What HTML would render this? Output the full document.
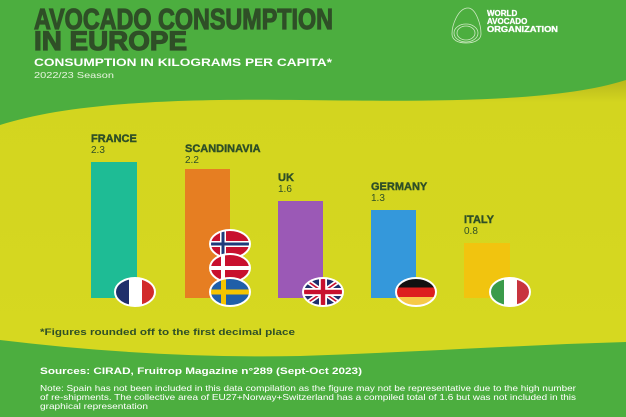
<!DOCTYPE html>
<html><head><meta charset="utf-8"><style>
html,body{margin:0;padding:0;width:626px;height:417px;overflow:hidden;background:#4cae3f}
svg{display:block}
text{font-family:"Liberation Sans",sans-serif}
</style></head><body>
<svg width="626" height="417" viewBox="0 0 626 417" xmlns="http://www.w3.org/2000/svg">
<defs>
<linearGradient id="yg" x1="0" y1="0" x2="0" y2="1">
<stop offset="0" stop-color="#b8b81c"/><stop offset="0.08" stop-color="#d3d51f"/><stop offset="1" stop-color="#d6d820"/>
</linearGradient>
<clipPath id="c1"><ellipse cx="0" cy="0" rx="20" ry="14"/></clipPath>
</defs>
<rect width="626" height="417" fill="#4cae3f"/>
<path d="M0,125 C60,106 150,98 300,100 S560,101 626,80 L626,342 C520,345 420,352 300,356 C200,358 100,352 0,340 Z" fill="url(#yg)"/>
<!-- title -->
<text x="34" y="29" font-size="29" font-weight="bold" fill="#2f4f27" stroke="#2f4f27" stroke-width="1.2" textLength="299" lengthAdjust="spacingAndGlyphs">AVOCADO CONSUMPTION</text>
<text x="34" y="50" font-size="27" font-weight="bold" fill="#2f4f27" stroke="#2f4f27" stroke-width="1.2" textLength="153" lengthAdjust="spacingAndGlyphs">IN EUROPE</text>
<text x="34" y="66" font-size="11" font-weight="bold" fill="#fff" textLength="298" lengthAdjust="spacingAndGlyphs">CONSUMPTION IN KILOGRAMS PER CAPITA*</text>
<text x="34" y="78" font-size="8.5" fill="#e8f5e0" textLength="80" lengthAdjust="spacingAndGlyphs">2022/23 Season</text>
<!-- logo -->
<g fill="none" stroke="#cfe9c4" stroke-width="0.8">
<path d="M468,8 C458,8 452,25 452,34 C452,40 458,43 466,43 C474,43 481,40 481,34 C481,25 476,8 468,8 Z"/>
<ellipse cx="466" cy="33" rx="9" ry="7"/>
<ellipse cx="466" cy="33" rx="12" ry="9"/>
</g>
<g font-size="8" font-weight="bold" fill="#fff" stroke="#fff" stroke-width="0.3">
<text x="487" y="16">WORLD</text>
<text x="487" y="24">AVOCADO</text>
<text x="487" y="32" textLength="71" lengthAdjust="spacingAndGlyphs">ORGANIZATION</text>
</g>
<!-- bars -->
<rect x="91" y="162" width="46" height="136" fill="#1ebc95"/>
<rect x="185" y="169" width="45" height="129" fill="#e67e22"/>
<rect x="278" y="201" width="45" height="97" fill="#9b59b6"/>
<rect x="371" y="210" width="45" height="88" fill="#3498db"/>
<rect x="464" y="243" width="46" height="55" fill="#f1c40f"/>
<g fill="#2f4f27" font-weight="bold" font-size="11" stroke="#2f4f27" stroke-width="0.4">
<text x="91" y="142">FRANCE</text>
<text x="185" y="152">SCANDINAVIA</text>
<text x="278" y="181">UK</text>
<text x="371" y="190">GERMANY</text>
<text x="464" y="223">ITALY</text>
</g>
<g fill="#2f4f27" font-size="10">
<text x="91" y="153">2.3</text>
<text x="185" y="163">2.2</text>
<text x="278" y="192">1.6</text>
<text x="371" y="201">1.3</text>
<text x="464" y="234">0.8</text>
</g>
<!-- flags -->
<g transform="translate(135,292)"><g clip-path="url(#c1)"><rect x="-20" y="-14" width="14" height="28" fill="#1f2f6b"/><rect x="-6" y="-14" width="13" height="28" fill="#fff"/><rect x="7" y="-14" width="13" height="28" fill="#d22b2b"/></g><ellipse rx="20" ry="14" fill="none" stroke="#fff" stroke-width="2"/></g>
<g transform="translate(230,244)"><g clip-path="url(#c1)"><rect x="-20" y="-14" width="40" height="28" fill="#c8102e"/><rect x="-20" y="-3" width="40" height="6" fill="#fff"/><rect x="-10" y="-14" width="6" height="28" fill="#fff"/><rect x="-20" y="-1.5" width="40" height="3" fill="#1f3a7a"/><rect x="-8.5" y="-14" width="3" height="28" fill="#1f3a7a"/></g><ellipse rx="20" ry="14" fill="none" stroke="#fff" stroke-width="2"/></g>
<g transform="translate(230,268)"><g clip-path="url(#c1)"><rect x="-20" y="-14" width="40" height="28" fill="#c8102e"/><rect x="-20" y="-2" width="40" height="4" fill="#fff"/><rect x="-9" y="-14" width="4" height="28" fill="#fff"/></g><ellipse rx="20" ry="14" fill="none" stroke="#fff" stroke-width="2"/></g>
<g transform="translate(230,292)"><g clip-path="url(#c1)"><rect x="-20" y="-14" width="40" height="28" fill="#1f5fa8"/><rect x="-20" y="-2.5" width="40" height="5" fill="#f5c400"/><rect x="-9" y="-14" width="5" height="28" fill="#f5c400"/></g><ellipse rx="20" ry="14" fill="none" stroke="#fff" stroke-width="2"/></g>
<g transform="translate(323,292)"><g clip-path="url(#c1)"><rect x="-20" y="-14" width="40" height="28" fill="#1f2f6b"/><path d="M-20,-14 L20,14 M20,-14 L-20,14" stroke="#fff" stroke-width="5"/><path d="M-20,-14 L20,14 M20,-14 L-20,14" stroke="#c8102e" stroke-width="1.6"/><rect x="-20" y="-4" width="40" height="8" fill="#fff"/><rect x="-4" y="-14" width="8" height="28" fill="#fff"/><rect x="-20" y="-2.2" width="40" height="4.4" fill="#c8102e"/><rect x="-2.2" y="-14" width="4.4" height="28" fill="#c8102e"/></g><ellipse rx="20" ry="14" fill="none" stroke="#fff" stroke-width="2"/></g>
<g transform="translate(416,292)"><g clip-path="url(#c1)"><rect x="-20" y="-14" width="40" height="10" fill="#111"/><rect x="-20" y="-4.5" width="40" height="9.5" fill="#dd1f1f"/><rect x="-20" y="5" width="40" height="9" fill="#f7c948"/></g><ellipse rx="20" ry="14" fill="none" stroke="#fff" stroke-width="2"/></g>
<g transform="translate(510,292)"><g clip-path="url(#c1)"><rect x="-20" y="-14" width="14" height="28" fill="#3a9b4a"/><rect x="-6" y="-14" width="13" height="28" fill="#fff"/><rect x="7" y="-14" width="13" height="28" fill="#c8343e"/></g><ellipse rx="20" ry="14" fill="none" stroke="#fff" stroke-width="2"/></g>
<!-- footer -->
<text x="40" y="335" font-size="9.5" font-weight="bold" fill="#2f4f27" textLength="255" lengthAdjust="spacingAndGlyphs">*Figures rounded off to the first decimal place</text>
<text x="40" y="374" font-size="9.5" font-weight="bold" fill="#fff" textLength="322" lengthAdjust="spacingAndGlyphs">Sources: CIRAD, Fruitrop Magazine n°289 (Sept-Oct 2023)</text>
<g fill="#fff" font-size="8.3">
<text x="40" y="391" textLength="536" lengthAdjust="spacingAndGlyphs">Note: Spain has not been included in this data compilation as the figure may not be representative due to the high number</text>
<text x="40" y="400" textLength="536" lengthAdjust="spacingAndGlyphs">of re-shipments. The collective area of EU27+Norway+Switzerland has a compiled total of 1.6 but was not included in this</text>
<text x="40" y="409" textLength="108" lengthAdjust="spacingAndGlyphs">graphical representation</text>
</g>
</svg>
</body></html>
